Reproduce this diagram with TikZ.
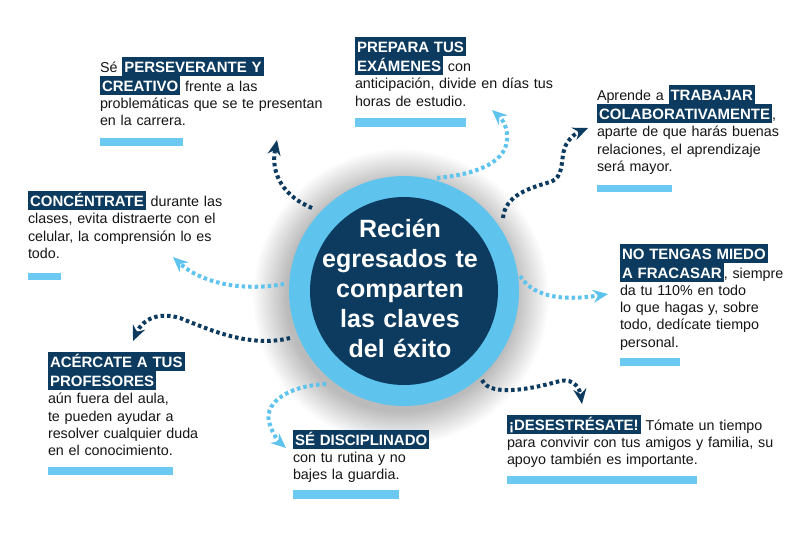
\documentclass[tikz,border=0pt]{standalone}
\usepackage{fontspec}
\setmainfont{Liberation Sans}
\usetikzlibrary{arrows.meta}
\definecolor{navy}{HTML}{0C3B5F}
\definecolor{sky}{HTML}{5EC4EE}
\definecolor{barblue}{HTML}{6CC9F2}
\definecolor{ink}{HTML}{151515}
\newcommand\hlb[1]{{\setlength\fboxsep{0pt}\colorbox{navy}{\hspace{2pt}\rule[-3.5pt]{0pt}{19pt}\textcolor{white}{\fontsize{15}{17}\selectfont\bfseries #1}\hspace{2pt}}}}
\newcommand\bodyfont{\fontsize{14.3}{17.3}\selectfont\lineskip=0pt\lineskiplimit=0pt\parindent=0pt}
\tikzset{
  txt/.style={anchor=north west, inner sep=0pt, outer sep=0pt, text width=#1, align=left, font=\bodyfont, text=ink},
  txt/.default=260pt,
  bar/.style={fill=barblue, draw=none},
  dotnavy/.style={draw=navy, line width=4pt, dash pattern=on 3.5pt off 3pt, -{Stealth[length=15pt,width=13pt,inset=5pt]}},
  dotsky/.style={draw=sky, line width=4pt, dash pattern=on 3.5pt off 3pt, -{Stealth[length=15pt,width=13pt,inset=5pt]}}
}
\begin{document}
\begin{tikzpicture}[x=1pt,y=-1pt]
\useasboundingbox (0,0) rectangle (800,541);
\fill[white] (0,0) rectangle (800,541);
% shadow halo
\foreach \r in {115,116,...,148}{\fill[black,opacity=0.008] (401,297) circle (\r pt);}
% central circle
\fill[sky] (404,291) circle (115pt);
\fill[navy] (404,291) circle (94pt);
\node[text width=200pt, align=center, inner sep=0pt, text=white, font=\fontsize{25}{30}\selectfont\bfseries] (center) at (400,288) {Recién\\egresados te\\comparten\\las claves\\del éxito};

% text blocks
\node[txt] (t1) at (100,56.5) {Sé \hlb{PERSEVERANTE Y}\\
\hlb{CREATIVO} frente a las\\
problemáticas que se te presentan\\
en la carrera.};
\node[txt] (t2) at (355,37) {\hlb{PREPARA TUS}\\
\hlb{EXÁMENES} con\\
anticipación, divide en días tus\\
horas de estudio.};
\node[txt=200pt] (t3) at (597,85) {Aprende a \hlb{TRABAJAR}\\
\hlb{COLABORATIVAMENTE},\\
aparte de que harás buenas\\
relaciones, el aprendizaje\\
será mayor.};
\node[txt] (t4) at (28,191) {\hlb{CONCÉNTRATE} durante las\\
clases, evita distraerte con el\\
celular, la comprensión lo es\\
todo.};
\node[txt=175pt] (t5) at (620,243.5) {\hlb{NO TENGAS MIEDO}\\
\hlb{A FRACASAR}, siempre\\
da tu 110\% en todo\\
lo que hagas y, sobre\\
todo, dedícate tiempo\\
personal.};
\node[txt] (t6) at (48,352) {\hlb{ACÉRCATE A TUS}\\
\hlb{PROFESORES}\\
aún fuera del aula,\\
te pueden ayudar a\\
resolver cualquier duda\\
en el conocimiento.};
\node[txt] (t7) at (293,429.5) {\hlb{SÉ DISCIPLINADO}\\
con tu rutina y no\\
bajes la guardia.};
\node[txt=285pt] (t8) at (507,414.5) {\hlb{¡DESESTRÉSATE!} Tómate un tiempo\\
para convivir con tus amigos y familia, su\\
apoyo también es importante.};

% bars
\fill[bar] (100,138) rectangle (183,146);
\fill[bar] (355,118) rectangle (466,127);
\fill[bar] (597,185) rectangle (672,192);
\fill[bar] (28,273) rectangle (61,280);
\fill[bar] (620,358) rectangle (680,366);
\fill[bar] (48,467) rectangle (173,475);
\fill[bar] (293,490) rectangle (399,499);
\fill[bar] (507,476) rectangle (697,484);

% arrows
\coordinate (a1s) at (312,208); \coordinate (a1e) at (277,140);
\coordinate (a2s) at (437,178); \coordinate (a2e) at (492,110);
\coordinate (a3s) at (503,218); \coordinate (a3e) at (588,128);
\coordinate (a4s) at (284,284); \coordinate (a4e) at (173,257);
\coordinate (a5s) at (290,338); \coordinate (a5e) at (133,341);
\coordinate (a6s) at (520,276); \coordinate (a6e) at (608,294);
\coordinate (a7s) at (326,384); \coordinate (a7e) at (286,448);
\coordinate (a8s) at (482,380); \coordinate (a8e) at (582,404);

\draw[dotnavy] (a1s) .. controls (285,197) and (270,175) .. (a1e);
\draw[dotsky] (a2s) .. controls (470,175) and (505,165) .. (507,140) .. controls (508,128) and (503,120) .. (a2e);
\draw[dotnavy] (a3s) .. controls (505,195) and (530,188) .. (550,182) .. controls (565,177) and (560,160) .. (565,147) .. controls (568,139) and (576,133) .. (a3e);
\draw[dotsky] (a4s) .. controls (240,292) and (200,282) .. (a4e);
\draw[dotnavy] (a5s) .. controls (250,348) and (210,330) .. (180,318) .. controls (160,312) and (143,318) .. (a5e);
\draw[dotsky] (a6s) .. controls (535,300) and (570,300) .. (a6e);
\draw[dotsky] (a7s) .. controls (285,386) and (262,405) .. (270,425) .. controls (273,434) and (278,441) .. (a7e);
\draw[dotnavy] (a8s) .. controls (490,398) and (535,388) .. (560,381) .. controls (575,378) and (580,390) .. (a8e);
\end{tikzpicture}
\end{document}
